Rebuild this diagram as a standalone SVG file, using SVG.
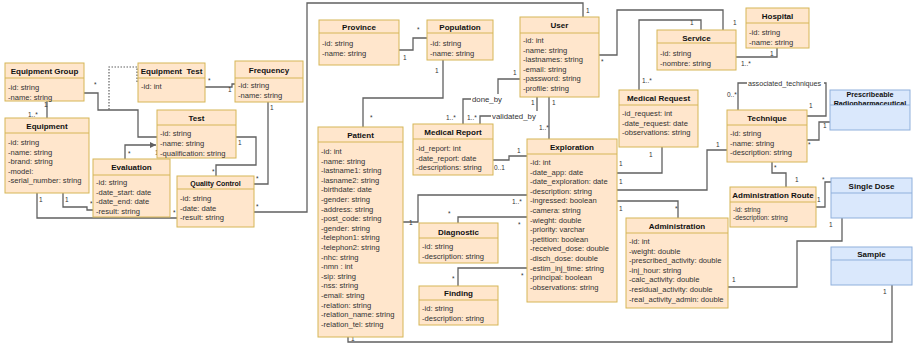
<svg xmlns="http://www.w3.org/2000/svg" width="913" height="345" viewBox="0 0 913 345">
<defs>
<style>
.b{fill:#ffe6cc;stroke:#d6b656;stroke-width:1}
.bl{fill:#dae8fc;stroke:#8fb0dc;stroke-width:1}
.s{stroke:#d6b656;stroke-width:1}
.sb{stroke:#8fb0dc;stroke-width:1}
.t{font-family:"Liberation Sans",Arial,sans-serif;font-weight:bold;font-size:8px;text-anchor:middle;fill:#111}
.a{font-family:"Liberation Sans",Arial,sans-serif;font-size:7.6px;fill:#333}
.m{font-family:"Liberation Sans",Arial,sans-serif;font-size:6.5px;fill:#333}
.l{font-family:"Liberation Sans",Arial,sans-serif;font-size:7.8px;fill:#333}
.bg{fill:#fff}
.c{fill:none;stroke:#606060;stroke-width:1.3}
.d{fill:none;stroke:#606060;stroke-width:1.2;stroke-dasharray:1.5 1.5}
</style>
<marker id="ar" viewBox="0 0 6 6" refX="6" refY="3" markerWidth="5" markerHeight="5" orient="auto"><path d="M0,0 L6,3 L0,6 z" fill="#606060"/></marker>
<clipPath id="prc"><rect x="830" y="90" width="80" height="15"/></clipPath>
</defs>
<rect width="913" height="345" fill="#fff"/>

<g id="connectors">
<polyline class="c" points="47,101 47,118"/>
<text class="m" x="44" y="107">1</text><text class="m" x="28" y="117">1..*</text>
<polyline class="c" points="84,93 98,93 98,110 138,110 138,137 157,137"/>
<text class="m" x="94" y="87">*</text>
<polyline class="d" points="137,82 137,67 109,67 109,110"/>
<polyline class="c" points="205,87 232,87 232,84 235,84"/>
<text class="m" x="208" y="83">*</text><text class="m" x="228" y="92">1</text>
<polyline class="c" points="268,102 268,184 254,184"/>
<text class="m" x="270" y="110">1</text><text class="m" x="256" y="181">*</text>
<polyline class="c" points="236,137 256,137 256,165 216,165 216,176"/>
<text class="m" x="238" y="145">1</text><text class="m" x="212" y="174">*</text>
<polyline class="c" points="125,159 125,145 156,145" marker-end="url(#ar)"/>
<text class="m" x="128" y="156">*</text><text class="m" x="155" y="155">1</text>
<polyline class="c" points="63,193 63,207 87,207 87,210 93,210"/>
<text class="m" x="65" y="202">1</text><text class="m" x="90" y="206">*</text>
<polyline class="c" points="37,193 37,218 177,218"/>
<text class="m" x="39" y="202">1</text><text class="m" x="173" y="215">*</text>
<polyline class="c" points="399,50 413,50 413,38 427,38"/>
<text class="m" x="403" y="60">1</text><text class="m" x="417" y="32">*</text>
<polyline class="c" points="443,60 443,98 363,98 363,127"/>
<text class="m" x="435" y="73">1</text><text class="m" x="370" y="120">*</text>
<polyline class="c" points="254,212 307,212 307,3 583,3 583,17"/>
<text class="m" x="256" y="209">*</text><text class="m" x="586" y="13">1</text>
<polyline class="c" points="520,79 498,79 498,99 463,99 463,124"/>
<rect class="bg" x="471" y="94" width="32" height="10"/>
<text class="l" x="472" y="101.8">done_by</text>
<text class="m" x="513" y="75">1</text><text class="m" x="446" y="120">1..*</text>
<polyline class="c" points="537,97 537,116 480,116 480,124"/>
<rect class="bg" x="491" y="111" width="47" height="10"/>
<text class="l" x="492" y="118.8">validated_by</text>
<text class="m" x="531" y="105">1</text><text class="m" x="467" y="120">1..*</text>
<polyline class="c" points="549,97 549,139"/>
<text class="m" x="552" y="105">1</text><text class="m" x="539" y="130">1..*</text>
<polyline class="c" points="493,160 509,160 509,156 527,156"/>
<text class="m" x="494" y="170">0..1</text><text class="m" x="517" y="153">1</text>
<polyline class="c" points="599,55 617,55 617,10 723,10 723,30"/>
<text class="m" x="601" y="64">*</text><text class="m" x="733" y="25">1</text>
<polyline class="c" points="639,90 639,20 701,20 701,30"/>
<text class="m" x="642" y="83">1..*</text><text class="m" x="690" y="25">1</text>
<polyline class="c" points="736,57 777,57 777,48"/>
<text class="m" x="741" y="66">1..*</text><text class="m" x="770" y="56">1</text>
<polyline class="c" points="617,173 662,173 662,147"/>
<text class="m" x="619" y="166">1</text><text class="m" x="649" y="157">1</text>
<polyline class="c" points="617,190 707,190 707,150 727,150"/>
<text class="m" x="619" y="184">1</text><text class="m" x="716" y="147">1</text>
<polyline class="c" points="617,201 678,201 678,218"/>
<text class="m" x="619" y="211">1</text><text class="m" x="675" y="211">*</text>
<polyline class="c" points="738,110 738,83 826,83 826,116 807,116"/>
<rect class="bg" x="747" y="78.5" width="77" height="9"/>
<text class="l" x="748" y="85.6" style="font-size:7.2px">associated_techniques</text>
<text class="m" x="727" y="97">0..*</text><text class="m" x="809" y="108">1</text>
<polyline class="c" points="807,140 819,140 819,122 830,122"/>
<text class="m" x="808" y="147">*</text><text class="m" x="823" y="128">1</text>
<polyline class="c" points="772,162 772,173 786,173 786,187"/>
<text class="m" x="774" y="170">*</text><text class="m" x="795" y="182">1</text>
<polyline class="c" points="816,207 825,207 825,182 831,182"/>
<text class="m" x="817" y="202">1</text><text class="m" x="822" y="182">*</text>
<polyline class="c" points="728,287 797,287 797,241 842,241 842,218"/>
<text class="m" x="732" y="282">1</text><text class="m" x="829" y="227">1</text>
<polyline class="c" points="348,337 348,342 892,342 892,285"/>
<text class="m" x="351" y="341">1</text><text class="m" x="883" y="294">1</text>
<polyline class="c" points="403,222 418,222 418,195 527,195"/>
<text class="m" x="409" y="225">1</text><text class="m" x="512" y="204">1..*</text>
<polyline class="c" points="458,223 458,217 527,217"/>
<text class="m" x="448" y="216">*</text><text class="m" x="518" y="227">*</text>
<polyline class="c" points="458,286 458,268 527,268"/>
<text class="m" x="452" y="281">*</text><text class="m" x="521" y="278">*</text>
</g>

<g id="equipment-group">
<rect class="b" x="5" y="63" width="79" height="38"/><line class="s" x1="5" y1="78" x2="84" y2="78"/>
<text class="t" x="44.5" y="74">Equipment Group</text>
<text class="a"><tspan x="8" y="90">-id: string</tspan><tspan x="8" y="99.5">-name: string</tspan></text>
</g>
<g id="equipment-test">
<rect class="b" x="138" y="63" width="67" height="39"/><line class="s" x1="138" y1="78" x2="205" y2="78"/>
<text class="t" x="171.5" y="74" style="white-space:pre">Equipment  Test</text>
<text class="a"><tspan x="141" y="89">-id: int</tspan></text>
</g>
<g id="frequency">
<rect class="b" x="235" y="61" width="68" height="41"/><line class="s" x1="235" y1="78" x2="303" y2="78"/>
<text class="t" x="269" y="72.5">Frequency</text>
<text class="a"><tspan x="238" y="88">-id: string</tspan><tspan x="238" y="97.5">-name: string</tspan></text>
</g>
<g id="test">
<rect class="b" x="157" y="110" width="79" height="48"/><line class="s" x1="157" y1="125" x2="236" y2="125"/>
<text class="t" x="196.5" y="120.5">Test</text>
<text class="a"><tspan x="160" y="136">-id: string</tspan><tspan x="160" y="146">-name: string</tspan><tspan x="160" y="155.5">-qualification: string</tspan></text>
</g>
<g id="equipment">
<rect class="b" x="5" y="118" width="84" height="75"/><line class="s" x1="5" y1="133" x2="89" y2="133"/>
<text class="t" x="47" y="129">Equipment</text>
<text class="a"><tspan x="8" y="145">-id: string</tspan><tspan x="8" y="154.6">-name: string</tspan><tspan x="8" y="164.2">-brand: string</tspan><tspan x="8" y="173.8">-model:</tspan><tspan x="8" y="183.4">-serial_number: string</tspan></text>
</g>
<g id="evaluation">
<rect class="b" x="93" y="159" width="77" height="58"/><line class="s" x1="93" y1="175" x2="170" y2="175"/>
<text class="t" x="131.5" y="170">Evaluation</text>
<text class="a"><tspan x="96" y="185">-id: string</tspan><tspan x="96" y="194.6">-date_start: date</tspan><tspan x="96" y="204.2">-date_end: date</tspan><tspan x="96" y="213.8">-result: string</tspan></text>
</g>
<g id="quality-control">
<rect class="b" x="177" y="176" width="77" height="51"/><line class="s" x1="177" y1="189" x2="254" y2="189"/>
<text class="t" x="215.5" y="185.5" style="font-size:7px">Quality Control</text>
<text class="a"><tspan x="180" y="201">-id: string</tspan><tspan x="180" y="210.6">-date: date</tspan><tspan x="180" y="220.2">-result: string</tspan></text>
</g>
<g id="province">
<rect class="b" x="319" y="20" width="80" height="45"/><line class="s" x1="319" y1="33" x2="399" y2="33"/>
<text class="t" x="359" y="30">Province</text>
<text class="a"><tspan x="322" y="46">-id: string</tspan><tspan x="322" y="55.6">-name: string</tspan></text>
</g>
<g id="population">
<rect class="b" x="427" y="20" width="66" height="40"/><line class="s" x1="427" y1="33" x2="493" y2="33"/>
<text class="t" x="460" y="30">Population</text>
<text class="a"><tspan x="430" y="46">-id: string</tspan><tspan x="430" y="55.6">-name: string</tspan></text>
</g>
<g id="patient">
<rect class="b" x="318" y="127" width="85" height="210"/><line class="s" x1="318" y1="142" x2="403" y2="142"/>
<text class="t" x="360.5" y="138">Patient</text>
<text class="a"><tspan x="321" y="154">-id: int</tspan><tspan x="321" y="163.6">-name: string</tspan><tspan x="321" y="173.2">-lastname1: string</tspan><tspan x="321" y="182.8">-lasname2: string</tspan><tspan x="321" y="192.4">-birthdate: date</tspan><tspan x="321" y="202">-gender: string</tspan><tspan x="321" y="211.6">-address: string</tspan><tspan x="321" y="221.2">-post_code: string</tspan><tspan x="321" y="230.8">-gender: string</tspan><tspan x="321" y="240.4">-telephon1: string</tspan><tspan x="321" y="250">-telephon2: string</tspan><tspan x="321" y="259.6">-nhc: string</tspan><tspan x="321" y="269.2">-nmn : int</tspan><tspan x="321" y="278.8">-sip: string</tspan><tspan x="321" y="288.4">-nss: string</tspan><tspan x="321" y="298">-email: string</tspan><tspan x="321" y="307.6">-relation: string</tspan><tspan x="321" y="317.2">-relation_name: string</tspan><tspan x="321" y="326.8">-relation_tel: string</tspan></text>
</g>
<g id="medical-report">
<rect class="b" x="413" y="124" width="80" height="51"/><line class="s" x1="413" y1="139" x2="493" y2="139"/>
<text class="t" x="453" y="135">Medical Report</text>
<text class="a"><tspan x="416" y="151">-id_report: int</tspan><tspan x="416" y="160.6">-date_report: date</tspan><tspan x="416" y="170.2">-descriptions: string</tspan></text>
</g>
<g id="user">
<rect class="b" x="520" y="17" width="79" height="80"/><line class="s" x1="520" y1="33" x2="599" y2="33"/>
<text class="t" x="559.5" y="28">User</text>
<text class="a"><tspan x="523" y="43">-id: int</tspan><tspan x="523" y="52.6">-name: string</tspan><tspan x="523" y="62.2">-lastnames: string</tspan><tspan x="523" y="71.8">-email: string</tspan><tspan x="523" y="81.4">-password: string</tspan><tspan x="523" y="91">-profile: string</tspan></text>
</g>
<g id="exploration">
<rect class="b" x="527" y="139" width="90" height="163"/><line class="s" x1="527" y1="154" x2="617" y2="154"/>
<text class="t" x="572" y="150">Exploration</text>
<text class="a"><tspan x="530" y="165">-id: int</tspan><tspan x="530" y="174.6">-date_app: date</tspan><tspan x="530" y="184.2">-date_exploration: date</tspan><tspan x="530" y="193.8">-description: string</tspan><tspan x="530" y="203.4">-ingressed: boolean</tspan><tspan x="530" y="213">-camera: string</tspan><tspan x="530" y="222.6">-wieght: double</tspan><tspan x="530" y="232.2">-priority: varchar</tspan><tspan x="530" y="241.8">-petition: boolean</tspan><tspan x="530" y="251.4">-received_dose: double</tspan><tspan x="530" y="261">-disch_dose: double</tspan><tspan x="530" y="270.6">-estim_inj_time: string</tspan><tspan x="530" y="280.2">-principal: boolean</tspan><tspan x="530" y="289.8">-observations: string</tspan></text>
</g>
<g id="medical-request">
<rect class="b" x="619" y="90" width="79" height="57"/><line class="s" x1="619" y1="105" x2="698" y2="105"/>
<text class="t" x="658.5" y="101">Medical Request</text>
<text class="a"><tspan x="622" y="116">-id_request: int</tspan><tspan x="622" y="125.6">-date_request: date</tspan><tspan x="622" y="135.2">-observations: string</tspan></text>
</g>
<g id="service">
<rect class="b" x="657" y="30" width="79" height="40"/><line class="s" x1="657" y1="43" x2="736" y2="43"/>
<text class="t" x="696.5" y="40.5">Service</text>
<text class="a"><tspan x="660" y="56">-id: string</tspan><tspan x="660" y="65.6">-nombre: string</tspan></text>
</g>
<g id="hospital">
<rect class="b" x="746" y="8" width="63" height="40"/><line class="s" x1="746" y1="23" x2="809" y2="23"/>
<text class="t" x="777.5" y="19">Hospital</text>
<text class="a"><tspan x="749" y="35">-id: string</tspan><tspan x="749" y="44.6">-name: string</tspan></text>
</g>
<g id="technique">
<rect class="b" x="727" y="110" width="80" height="52"/><line class="s" x1="727" y1="125" x2="807" y2="125"/>
<text class="t" x="767" y="121">Technique</text>
<text class="a"><tspan x="730" y="136">-id: string</tspan><tspan x="730" y="145.6">-name: string</tspan><tspan x="730" y="155.2">-description: string</tspan></text>
</g>
<g id="prescribeable-radiopharmaceutical">
<rect class="bl" x="830" y="90" width="80" height="40"/><line class="sb" x1="830" y1="105" x2="910" y2="105"/>
<text class="t" x="870" y="96.5" style="font-size:7.2px">Prescribeable</text>
<text class="t" x="870" y="105.5" style="font-size:7.2px" clip-path="url(#prc)">Radiopharmaceutical</text>
</g>
<g id="administration-route">
<rect class="b" x="730" y="187" width="86" height="40"/><line class="s" x1="730" y1="202" x2="816" y2="202"/>
<text class="t" x="773" y="198">Administration Route</text>
<text class="a" style="font-size:6.7px"><tspan x="733" y="211.5">-id: string</tspan><tspan x="733" y="219.5">-description: string</tspan></text>
</g>
<g id="single-dose">
<rect class="bl" x="831" y="178" width="81" height="40"/><line class="sb" x1="831" y1="193" x2="912" y2="193"/>
<text class="t" x="871.5" y="189">Single Dose</text>
</g>
<g id="sample">
<rect class="bl" x="831" y="247" width="81" height="38"/><line class="sb" x1="831" y1="260" x2="912" y2="260"/>
<text class="t" x="871.5" y="257">Sample</text>
</g>
<g id="administration">
<rect class="b" x="626" y="218" width="102" height="90"/><line class="s" x1="626" y1="233" x2="728" y2="233"/>
<text class="t" x="677" y="229">Administration</text>
<text class="a"><tspan x="629" y="244">-id: int</tspan><tspan x="629" y="253.6">-weight: double</tspan><tspan x="629" y="263.2">-prescribed_activity: double</tspan><tspan x="629" y="272.8">-inj_hour: string</tspan><tspan x="629" y="282.4">-calc_activity: double</tspan><tspan x="629" y="292">-residual_activity: double</tspan><tspan x="629" y="301.6">-real_activity_admin: double</tspan></text>
</g>
<g id="diagnostic">
<rect class="b" x="419" y="223" width="79" height="40"/><line class="s" x1="419" y1="238" x2="498" y2="238"/>
<text class="t" x="458.5" y="234.5">Diagnostic</text>
<text class="a"><tspan x="422" y="249">-id: string</tspan><tspan x="422" y="258.6">-description: string</tspan></text>
</g>
<g id="finding">
<rect class="b" x="419" y="286" width="79" height="39"/><line class="s" x1="419" y1="300" x2="498" y2="300"/>
<text class="t" x="458.5" y="296">Finding</text>
<text class="a"><tspan x="422" y="311">-id: string</tspan><tspan x="422" y="320.6">-description: string</tspan></text>
</g>
</svg>
